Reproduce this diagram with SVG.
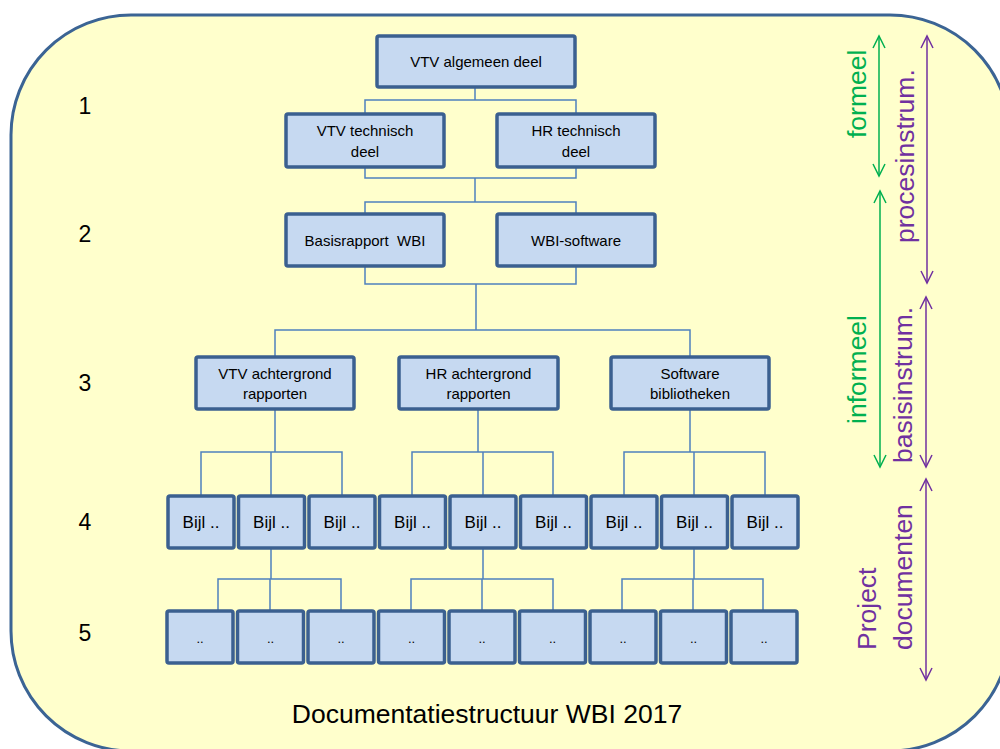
<svg xmlns="http://www.w3.org/2000/svg" width="1000" height="749" viewBox="0 0 1000 749">
<defs>
<style>
.bg{fill:#ffffcc;stroke:#3b6494;stroke-width:3}
.box{fill:#c6d9f1;stroke:#3b6090;stroke-width:3.5}
.t{font-family:"Liberation Sans",Arial,sans-serif;fill:#000;text-anchor:middle}
.b{font-size:15px}
.bj{font-size:17px}
.dd{font-size:13px}
.num{font-size:23px}
.conn{fill:none;stroke:#4f81bd;stroke-width:1.5}
.side{font-family:"Liberation Sans",Arial,sans-serif;font-size:26.5px}
.g{fill:#00b050}
.p{fill:#7030a0}
.ag{stroke:#00b050;stroke-width:1.5;fill:none}
.ap{stroke:#7030a0;stroke-width:1.5;fill:none}
</style>
<marker id="mg" markerUnits="userSpaceOnUse" markerWidth="16" markerHeight="16" viewBox="-14 -8 16 16" refX="0" refY="0" orient="auto-start-reverse"><path d="M-12,-6 L0,0 L-12,6" fill="none" stroke="#00b050" stroke-width="1.5"/></marker>
<marker id="mp" markerUnits="userSpaceOnUse" markerWidth="16" markerHeight="16" viewBox="-14 -8 16 16" refX="0" refY="0" orient="auto-start-reverse"><path d="M-12,-6 L0,0 L-12,6" fill="none" stroke="#7030a0" stroke-width="1.5"/></marker>
</defs>
<rect class="bg" x="11" y="15" width="999" height="736" rx="120" ry="120"/>
<g id="connectors">
<path class="conn" d="M475 87 V100 M365 114 V100 H576 V114"/>
<path class="conn" d="M365 167 V178 H576 V167 M475 178 V202 M365 214 V202 H576 V214"/>
<path class="conn" d="M365 266 V284 H576 V266 M476 284 V330 M275 357 V330 H690 V357"/>
<path class="conn" d="M275 409 V452 M201 496 V452 H342 V496 M271 452 V496"/>
<path class="conn" d="M478 409 V452 M412 496 V452 H553 V496 M483 452 V496"/>
<path class="conn" d="M690 409 V452 M624 496 V452 H765 V496 M694 452 V496"/>
<path class="conn" d="M271 548 V579 M218 611 V579 H341 V611 M270 579 V611"/>
<path class="conn" d="M483 548 V579 M411 611 V579 H553 V611 M482 579 V611"/>
<path class="conn" d="M694 548 V579 M622 611 V579 H763 V611 M693 579 V611"/>
</g>
<g id="row-numbers">
<text class="t num" x="85" y="114">1</text>
<text class="t num" x="85" y="242">2</text>
<text class="t num" x="85" y="391">3</text>
<text class="t num" x="85" y="530">4</text>
<text class="t num" x="85" y="641">5</text>
</g>
<g id="n-vtv-algemeen"><rect class="box" x="377" y="36" width="198" height="51" rx="2"/><text class="t b" x="476" y="67">VTV algemeen deel</text></g>
<g id="n-vtv-technisch"><rect class="box" x="286" y="114" width="158" height="53" rx="2"/><text class="t b" x="365" y="136">VTV technisch</text><text class="t b" x="365" y="157">deel</text></g>
<g id="n-hr-technisch"><rect class="box" x="497" y="114" width="158" height="53" rx="2"/><text class="t b" x="576" y="136">HR technisch</text><text class="t b" x="576" y="157">deel</text></g>
<g id="n-basisrapport"><rect class="box" x="286" y="214" width="158" height="52" rx="2"/><text class="t b" x="365" y="246" xml:space="preserve">Basisrapport  WBI</text></g>
<g id="n-wbi-software"><rect class="box" x="497" y="214" width="158" height="52" rx="2"/><text class="t b" x="576" y="246">WBI-software</text></g>
<g id="n-vtv-achtergrond"><rect class="box" x="196" y="357" width="158" height="52" rx="2"/><text class="t b" x="275" y="379">VTV achtergrond</text><text class="t b" x="275" y="399">rapporten</text></g>
<g id="n-hr-achtergrond"><rect class="box" x="399" y="357" width="159" height="52" rx="2"/><text class="t b" x="478.5" y="379">HR achtergrond</text><text class="t b" x="478.5" y="399">rapporten</text></g>
<g id="n-software-bib"><rect class="box" x="611" y="357" width="158" height="52" rx="2"/><text class="t b" x="690" y="379">Software</text><text class="t b" x="690" y="399">bibliotheken</text></g>
<g id="n-bijl-1"><rect class="box" x="168" y="496" width="66" height="52" rx="2"/><text class="t bj" x="201" y="528">Bijl ..</text></g>
<g id="n-bijl-2"><rect class="box" x="238.5" y="496" width="66" height="52" rx="2"/><text class="t bj" x="271.5" y="528">Bijl ..</text></g>
<g id="n-bijl-3"><rect class="box" x="309" y="496" width="66" height="52" rx="2"/><text class="t bj" x="342" y="528">Bijl ..</text></g>
<g id="n-bijl-4"><rect class="box" x="379.5" y="496" width="66" height="52" rx="2"/><text class="t bj" x="412.5" y="528">Bijl ..</text></g>
<g id="n-bijl-5"><rect class="box" x="450" y="496" width="66" height="52" rx="2"/><text class="t bj" x="483" y="528">Bijl ..</text></g>
<g id="n-bijl-6"><rect class="box" x="520.5" y="496" width="66" height="52" rx="2"/><text class="t bj" x="553.5" y="528">Bijl ..</text></g>
<g id="n-bijl-7"><rect class="box" x="591" y="496" width="66" height="52" rx="2"/><text class="t bj" x="624" y="528">Bijl ..</text></g>
<g id="n-bijl-8"><rect class="box" x="661.5" y="496" width="66" height="52" rx="2"/><text class="t bj" x="694.5" y="528">Bijl ..</text></g>
<g id="n-bijl-9"><rect class="box" x="732" y="496" width="66" height="52" rx="2"/><text class="t bj" x="765" y="528">Bijl ..</text></g>
<g id="n-doc-1"><rect class="box" x="167" y="611" width="66" height="52" rx="2"/><text class="t dd" x="200" y="643">..</text></g>
<g id="n-doc-2"><rect class="box" x="237.5" y="611" width="66" height="52" rx="2"/><text class="t dd" x="270.5" y="643">..</text></g>
<g id="n-doc-3"><rect class="box" x="308" y="611" width="66" height="52" rx="2"/><text class="t dd" x="341" y="643">..</text></g>
<g id="n-doc-4"><rect class="box" x="378.5" y="611" width="66" height="52" rx="2"/><text class="t dd" x="411.5" y="643">..</text></g>
<g id="n-doc-5"><rect class="box" x="449" y="611" width="66" height="52" rx="2"/><text class="t dd" x="482" y="643">..</text></g>
<g id="n-doc-6"><rect class="box" x="519.5" y="611" width="66" height="52" rx="2"/><text class="t dd" x="552.5" y="643">..</text></g>
<g id="n-doc-7"><rect class="box" x="590" y="611" width="66" height="52" rx="2"/><text class="t dd" x="623" y="643">..</text></g>
<g id="n-doc-8"><rect class="box" x="660.5" y="611" width="66" height="52" rx="2"/><text class="t dd" x="693.5" y="643">..</text></g>
<g id="n-doc-9"><rect class="box" x="731" y="611" width="66" height="52" rx="2"/><text class="t dd" x="764" y="643">..</text></g>
<g id="side-arrows">
<line class="ag" x1="879" y1="36" x2="879" y2="176" marker-start="url(#mg)" marker-end="url(#mg)"/>
<line class="ag" x1="880" y1="191" x2="880" y2="467" marker-start="url(#mg)" marker-end="url(#mg)"/>
<line class="ap" x1="927" y1="36" x2="927" y2="283" marker-start="url(#mp)" marker-end="url(#mp)"/>
<line class="ap" x1="926" y1="297" x2="926" y2="467" marker-start="url(#mp)" marker-end="url(#mp)"/>
<line class="ap" x1="926" y1="479" x2="926" y2="680" marker-start="url(#mp)" marker-end="url(#mp)"/>
</g>
<g id="side-labels">
<text class="side g" transform="translate(866,138) rotate(-90)">formeel</text>
<text class="side p" transform="translate(914,243) rotate(-90)">procesinstrum.</text>
<text class="side g" transform="translate(866,424) rotate(-90)">informeel</text>
<text class="side p" transform="translate(912,463) rotate(-90)">basisinstrum.</text>
<text class="side p" transform="translate(876,650) rotate(-90)">Project</text>
<text class="side p" transform="translate(912,650) rotate(-90)">documenten</text>
</g>
<text id="title" class="t" x="487" y="723" font-size="26.5">Documentatiestructuur WBI 2017</text>
</svg>
